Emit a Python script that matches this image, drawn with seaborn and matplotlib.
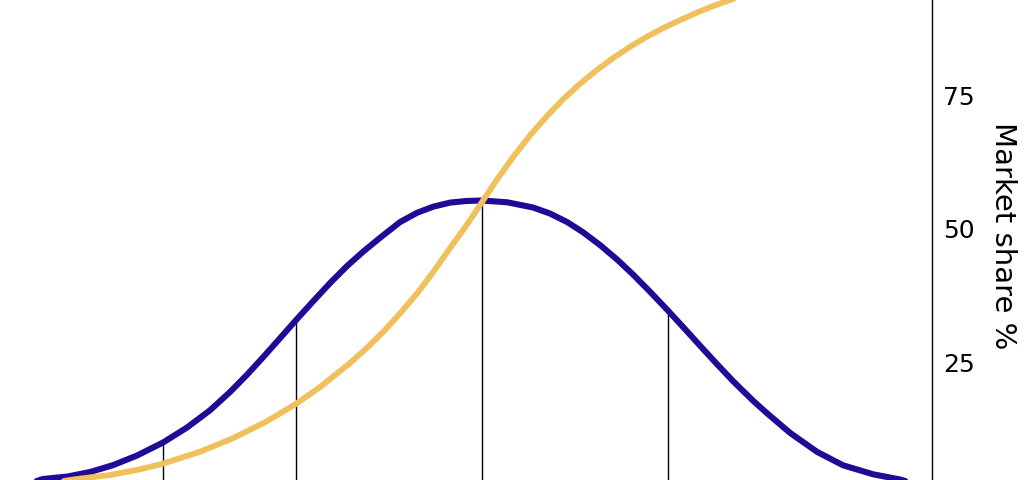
import matplotlib
matplotlib.use("Agg")
import matplotlib.pyplot as plt
import seaborn as sns
import pandas as pd

# Position in standard deviations from the mean adoption time
adopters_x = [-2.50, -2.348, -2.219, -2.096, -1.973, -1.845, -1.706, -1.578,
              -1.455, -1.348, -1.257, -1.171, -1.080, -0.995, -0.904, -0.813,
              -0.722, -0.636, -0.545, -0.439, -0.348, -0.262, -0.171, -0.086,
              0.0, 0.134, 0.273, 0.364, 0.455, 0.540, 0.631, 0.722,
              0.807, 0.898, 0.995, 1.075, 1.166, 1.257, 1.342, 1.449,
              1.524, 1.647, 1.791, 1.930, 2.091, 2.235, 2.40]
# Share of new adopters (blue bell curve)
adopters_share = [1.4, 3.09, 3.54, 4.40, 5.69, 7.49, 9.93, 12.73,
                  15.96, 19.38, 22.62, 25.90, 29.48, 32.85, 36.35, 39.79,
                  42.98, 45.67, 48.28, 51.20, 52.94, 54.08, 54.85, 55.15,
                  55.24, 54.91, 53.93, 52.79, 51.20, 49.29, 46.89, 44.19,
                  41.39, 38.16, 34.59, 31.54, 28.03, 24.57, 21.42, 17.75,
                  15.39, 11.72, 8.18, 5.66, 3.97, 3.00, 1.3]

# Cumulative market share (yellow S-curve)
market_x = [-2.45, -2.166, -1.989, -1.829, -1.706, -1.508, -1.332, -1.150,
            -0.995, -0.866, -0.706, -0.615, -0.529, -0.439, -0.348, -0.262,
            -0.171, -0.080, 0.0, 0.080, 0.166, 0.257, 0.348, 0.433,
            0.524, 0.615, 0.701, 0.791, 0.882, 0.968, 1.059, 1.150,
            1.235, 1.326, 1.487, 1.701, 1.968, 2.406]
market_share = [1.6, 3.09, 3.84, 4.91, 5.97, 8.20, 10.73, 13.91,
                17.17, 20.32, 24.81, 27.68, 30.64, 34.08, 37.83, 41.82,
                46.35, 50.77, 54.98, 59.19, 63.39, 67.47, 71.10, 74.19,
                77.12, 79.72, 81.93, 84.03, 85.94, 87.53, 89.03, 90.45,
                91.65, 92.80, 94.40, 95.60, 96.50, 97.20]

# Boundaries between adopter groups, drawn up to the bell curve
group_x = [-1.706, -0.995, 0.0, 0.995]
group_top = [9.93, 32.6, 55.1, 34.4]

y_ticks = [25, 50, 75]

sns.set_style("white")
plt.rcParams['font.family'] = ['DejaVu Sans']
plt.rcParams['text.color'] = 'black'
plt.rcParams['ytick.color'] = 'black'
plt.rcParams['axes.labelcolor'] = 'black'

fig = plt.figure(figsize=(10.24, 4.8), dpi=100)
ax = fig.add_axes([0, -0.0323, 0.9102, 1.1125])

adopters = pd.DataFrame({"x": adopters_x, "share": adopters_share})
market = pd.DataFrame({"x": market_x, "share": market_share})

ax.vlines(group_x, 0, group_top, color="black", linewidth=1.0, zorder=1)
sns.lineplot(data=adopters, x="x", y="share", color="#210a95",
             linewidth=4.4, ax=ax, zorder=2)
sns.lineplot(data=market, x="x", y="share", color="#efc05b",
             linewidth=4.2, ax=ax, zorder=3)

ax.set_xlim(-2.578, 2.406)
ax.set_ylim(0, 100)
ax.set_xticks([])
ax.set_xlabel("")
ax.set_yticks(y_ticks)
ax.yaxis.tick_right()
ax.yaxis.set_label_position("right")
ax.tick_params(axis="y", length=0, pad=8, labelsize=18, labelcolor="black")
ax.set_ylabel("Market share %", fontsize=21, rotation=270)
ax.yaxis.label.set_verticalalignment("center")
ax.yaxis.label.set_horizontalalignment("center")
ax.yaxis.set_label_coords(1.0757, 0.487)

for side in ["left", "top", "bottom"]:
    ax.spines[side].set_visible(False)
ax.spines["right"].set_color("black")
ax.spines["right"].set_linewidth(1.0)

fig.savefig("out.png", dpi=100)
